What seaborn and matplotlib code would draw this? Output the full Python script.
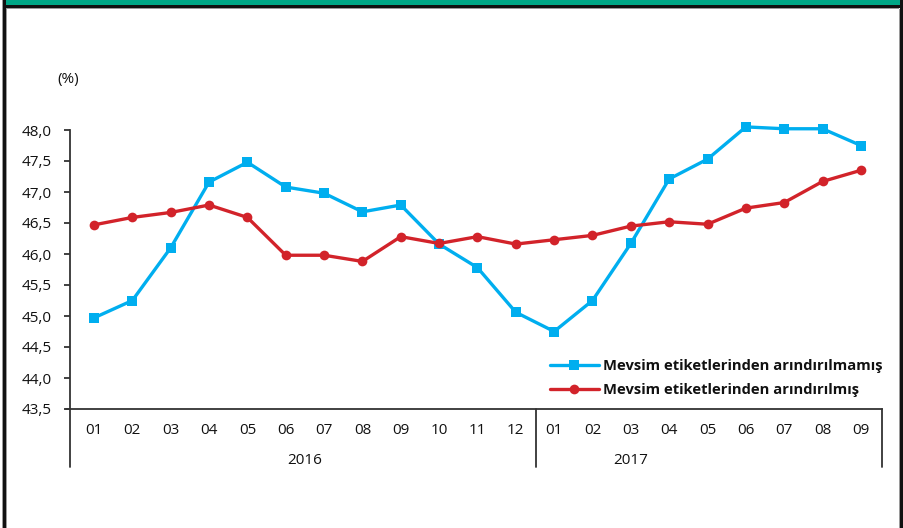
import matplotlib
matplotlib.use("Agg")
import matplotlib.pyplot as plt
from matplotlib.patches import Rectangle
from matplotlib.lines import Line2D
import seaborn as sns
import pandas as pd

# Monthly labour-force participation rate (%), 2016-01 .. 2017-09
months = ["01", "02", "03", "04", "05", "06", "07", "08", "09", "10", "11", "12",
          "01", "02", "03", "04", "05", "06", "07", "08", "09"]
years = ["2016", "2017"]
raw_series = [44.97, 45.25, 46.10, 47.16, 47.48, 47.08, 46.98, 46.68, 46.79, 46.16, 45.78, 45.06,
              44.75, 45.25, 46.17, 47.21, 47.53, 48.05, 48.02, 48.02, 47.75]
adj_series = [46.47, 46.59, 46.67, 46.79, 46.59, 45.98, 45.98, 45.88, 46.28, 46.17, 46.28, 46.16,
              46.23, 46.30, 46.45, 46.52, 46.48, 46.74, 46.83, 47.17, 47.35]
label_raw = "Mevsim etiketlerinden arındırılmamış"
label_adj = "Mevsim etiketlerinden arındırılmış"
y_ticks = [43.5, 44.0, 44.5, 45.0, 45.5, 46.0, 46.5, 47.0, 47.5, 48.0]

BLUE = "#00AEEF"
RED = "#D2232A"
GREEN = "#00A887"
INK = "#111111"
AXIS = "#333333"

sns.set_theme(style="white")
plt.rcParams["font.family"] = ["Open Sans", "DejaVu Sans"]

W, H = 904, 528
fig = plt.figure(figsize=(W / 100, H / 100), dpi=100)


def fx(px):
    return px / W


def fy(py):
    return 1 - py / H


# Page frame: green band on top, dark borders round the panel
def frame_rect(x0, y0, x1, y1, color):
    fig.add_artist(Rectangle((fx(x0), fy(y1)), fx(x1) - fx(x0), fy(y0) - fy(y1),
                             transform=fig.transFigure, facecolor=color,
                             edgecolor="none", zorder=0))


frame_rect(6, 0, 900, 5, GREEN)
frame_rect(3, 5, 902, 8, INK)
frame_rect(6, 8, 899, 9, "#9a9a9a")
frame_rect(2, 0, 3, H, "#9a9a9a")
frame_rect(3, 0, 6, H, INK)
frame_rect(6, 9, 7, H, "#9a9a9a")
frame_rect(899, 9, 900, H, "#9a9a9a")
frame_rect(900, 0, 903, H, INK)

# Plot area
ax = fig.add_axes([fx(70), fy(409), fx(882) - fx(70), fy(130) - fy(409)])

df = pd.DataFrame({
    "pos": list(range(len(months))) * 2,
    "value": raw_series + adj_series,
    "series": [label_raw] * len(months) + [label_adj] * len(months),
})

sns.lineplot(data=df[df["series"] == label_raw], x="pos", y="value", ax=ax,
             color=BLUE, linewidth=2.4, marker="s", markersize=7.5,
             markeredgewidth=0, legend=False, clip_on=False)
sns.lineplot(data=df[df["series"] == label_adj], x="pos", y="value", ax=ax,
             color=RED, linewidth=2.4, marker="o", markersize=7,
             markeredgewidth=0, legend=False, clip_on=False)

ax.set_xlim(-0.626, 20.55)
ax.set_ylim(43.5, 48.0)
ax.set_yticks(y_ticks)
ax.set_yticklabels([f"{v:.1f}".replace(".", ",") for v in y_ticks])
ax.set_xticks(range(len(months)))
ax.set_xticklabels(months)
ax.set_xlabel("")
ax.set_ylabel("")

for side in ["top", "right"]:
    ax.spines[side].set_visible(False)
for side in ["left", "bottom"]:
    ax.spines[side].set_color(AXIS)
    ax.spines[side].set_linewidth(1.3)

ax.tick_params(axis="y", which="major", left=True, length=4, width=1.3,
               color=AXIS, labelsize=11, pad=9, labelcolor=INK)
ax.tick_params(axis="x", which="major", bottom=False, length=0,
               labelsize=11, pad=10, labelcolor=INK)

# Category-group separators below the axis
trans = ax.get_xaxis_transform()
drop = (409 - 467) / (409 - 130)
for xs in [-0.626, 11.53, 20.55]:
    ax.add_line(Line2D([xs, xs], [0, drop], transform=trans, color=AXIS,
                       linewidth=1.3, clip_on=False))
ax.add_line(Line2D([-0.73, -0.626], [0, 0], transform=trans, color=AXIS,
                   linewidth=1.3, clip_on=False))

year_y = (409 - 460) / (409 - 130)
ax.text(5.5, year_y, years[0], transform=trans, ha="center", va="center",
        fontsize=11, color=INK)
ax.text(14, year_y, years[1], transform=trans, ha="center", va="center",
        fontsize=11, color=INK)

fig.text(fx(68), fy(80), "(%)", ha="center", va="center", fontsize=11, color=INK)

handles = [
    Line2D([], [], color=BLUE, linewidth=2.4, marker="s", markersize=7.5, markeredgewidth=0),
    Line2D([], [], color=RED, linewidth=2.4, marker="o", markersize=7, markeredgewidth=0),
]
leg = ax.legend(handles, [label_raw, label_adj], loc="upper left",
                bbox_to_anchor=(fx(550), fy(359)), bbox_transform=fig.transFigure,
                frameon=False, handlelength=3.3, handletextpad=0.3,
                labelspacing=0.7, borderpad=0, borderaxespad=0,
                prop={"family": ["Open Sans", "DejaVu Sans"], "weight": "bold", "size": 10.6})
for t in leg.get_texts():
    t.set_color(INK)

fig.savefig("out.png", dpi=100)
